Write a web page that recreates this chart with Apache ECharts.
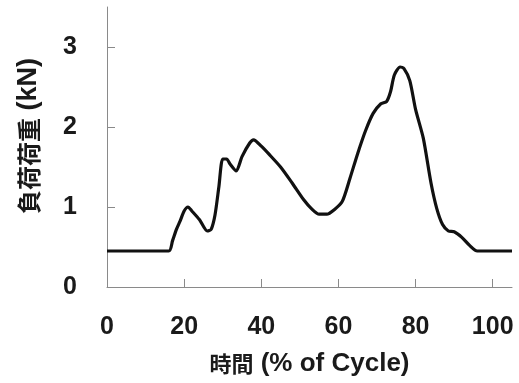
<!DOCTYPE html>
<html><head><meta charset="utf-8">
<script src="https://cdn.jsdelivr.net/npm/echarts@6/dist/echarts.min.js"></script>
<style>html,body{margin:0;padding:0;background:#fff}#c{width:519px;height:383px}</style>
</head><body><div id="c"></div>
<script>
const cyclePct = [0, 16, 17, 18, 19, 20, 21, 22, 24, 26, 27, 28, 29, 30, 31, 32, 33.5, 35, 37, 38, 40, 42, 45, 48, 51, 53, 55, 57, 59, 61, 63, 65, 67, 69, 71, 72.5, 73.5, 74.5, 76, 77, 78.5, 80, 82, 84, 85.5, 87, 88.5, 90, 92, 94, 96, 105];
const loadKN = [0.45, 0.45, 0.58, 0.72, 0.83, 0.95, 1.0, 0.95, 0.84, 0.70, 0.72, 0.9, 1.25, 1.6, 1.6, 1.53, 1.45, 1.63, 1.8, 1.84, 1.76, 1.66, 1.50, 1.30, 1.09, 0.98, 0.91, 0.91, 0.97, 1.07, 1.36, 1.67, 1.95, 2.17, 2.29, 2.32, 2.44, 2.65, 2.75, 2.73, 2.58, 2.22, 1.86, 1.30, 0.98, 0.78, 0.70, 0.69, 0.62, 0.52, 0.45, 0.45];
const xTicks = [0, 20, 40, 60, 80, 100];
const yTicks = [0, 1, 2, 3];
const xNameCJK = '時間';
const xNameLatin = '(% of Cycle)';
const yNameCJK = '負荷荷重';
const yNameLatin = '(kN)';

const font = '"Liberation Sans", Arial, "Noto Sans CJK JP", sans-serif';
const cjkFont = '"Noto Sans CJK JP", sans-serif';
const txt = '#1a1a1a';
const richX = {
  c: {fontFamily: cjkFont, fontWeight: 'bold', fontSize: 22, color: txt},
  l: {fontFamily: font, fontWeight: 'bold', fontSize: 26, color: txt}
};
const richY = {
  c: {fontFamily: cjkFont, fontWeight: 'bold', fontSize: 24, color: txt},
  l: {fontFamily: font, fontWeight: 'bold', fontSize: 27, color: txt}
};
const chart = echarts.init(document.getElementById('c'));
const axisCol = '#8a8a8a';
chart.setOption({
  animation: false,
  backgroundColor: '#fff',
  grid: {left: 107, right: 7, top: 7, bottom: 96, containLabel: false},
  xAxis: {
    type: 'value', min: 0, max: 105,
    name: '{c|' + xNameCJK + '} {l|' + xNameLatin + '}', nameLocation: 'middle', nameGap: 64,
    nameTextStyle: {fontFamily: font, fontWeight: 'bold', fontSize: 26, color: txt, rich: richX},
    axisLine: {lineStyle: {color: axisCol, width: 1}},
    axisTick: {inside: true, length: 8, lineStyle: {color: axisCol}, customValues: xTicks},
    axisLabel: {margin: 28, fontFamily: font, fontWeight: 'bold', fontSize: 25, color: txt, customValues: xTicks},
    splitLine: {show: false}
  },
  yAxis: {
    type: 'value', min: 0, max: 3.5,
    name: '{c|' + yNameCJK + '} {l|' + yNameLatin + '}', nameLocation: 'middle', nameGap: 65, nameRotate: 90,
    nameTextStyle: {fontFamily: font, fontWeight: 'bold', fontSize: 27, color: txt, rich: richY, padding: [0, 0, 0, 22]},
    axisLine: {show: true, lineStyle: {color: axisCol, width: 1}},
    axisTick: {show: true, inside: true, length: 8, lineStyle: {color: axisCol}, customValues: yTicks},
    axisLabel: {margin: 30, fontFamily: font, fontWeight: 'bold', fontSize: 25, color: txt, customValues: yTicks},
    splitLine: {show: false}
  },
  series: [{
    type: 'line',
    data: cyclePct.map((x, i) => [x, loadKN[i]]),
    showSymbol: false,
    smooth: 0.25,
    lineStyle: {color: '#111', width: 3.2}
  }]
});
</script></body></html>
